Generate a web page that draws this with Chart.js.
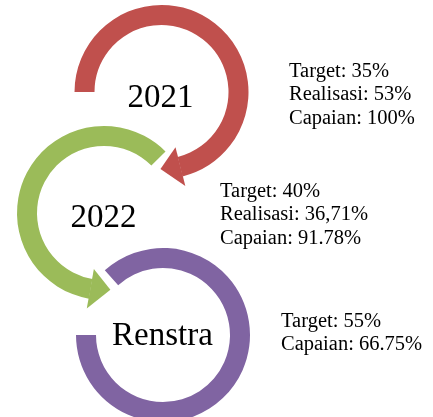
<!DOCTYPE html>
<html>
<head>
<meta charset="utf-8">
<script src="https://cdn.jsdelivr.net/npm/chart.js@4"></script>
<style>
  html, body { margin: 0; padding: 0; background: #ffffff; overflow: hidden; }
  #wrap { position: relative; width: 433px; height: 417px; }
  #wrap canvas { position: absolute; left: 0; top: 0; }
</style>
</head>
<body>
<div id="wrap">
  <canvas id="c0" width="433" height="417"></canvas>
  <canvas id="c1" width="433" height="417"></canvas>
  <canvas id="c2" width="433" height="417"></canvas>
</div>
<script>
// ---- data ----
const periods   = ['2021', '2022', 'Renstra'];
const targets   = [35, 40, 55];
const realisasi = [53, 36.71, null];
const capaian   = [100, 91.78, 66.75];
const realisasiSep = [',', ',', ','];
const capaianSep   = ['.', '.', '.'];

// ---- layout / styling (not data) ----
const W = 433, H = 417;
const colors = ['#C0504D', '#9BBB59', '#8064A2'];
const rings = [
  { cx: 161.5, cy: 92,  startDeg: 180,  spanDeg: 256, arrow: 'end'   },
  { cx: 104,   cy: 213, startDeg: 100,  spanDeg: 215, arrow: 'start' },
  { cx: 163,   cy: 335, startDeg: -132, spanDeg: 312, arrow: null    }
];
const OUTER_R = 87, INNER_R = 67;
const centerText = [
  { x: 160.5, y: 107 },
  { x: 103.5, y: 227 },
  { x: 162.5, y: 345 }
];
const sideText = [
  { x: 289, y: [77, 100, 124] },
  { x: 220, y: [197, 220, 244] },
  { x: 281, y: [327, 350] }
];

function pct(v, sep) {
  return String(v).replace('.', sep) + '%';
}
function linesFor(i) {
  const out = ['Target: ' + pct(targets[i], '.')];
  if (realisasi[i] !== null) out.push('Realisasi: ' + pct(realisasi[i], realisasiSep[i]));
  out.push('Capaian: ' + pct(capaian[i], capaianSep[i]));
  return out;
}

const arrowPlugin = {
  id: 'arrowHead',
  afterDatasetsDraw(chart, args, opts) {
    if (!opts.side) return;
    const arc = chart.getDatasetMeta(0).data[0];
    const p = arc.getProps(['x', 'y', 'startAngle', 'endAngle', 'innerRadius', 'outerRadius'], true);
    const ctx = chart.ctx;
    const dir = opts.side === 'end' ? 1 : -1;
    const base = (opts.side === 'end' ? p.endAngle : p.startAngle) - dir * 0.004;
    const tipA = base + dir * opts.lengthDeg * Math.PI / 180;
    const mid = (p.innerRadius + p.outerRadius) / 2;
    const r1 = p.innerRadius - opts.flare, r2 = p.outerRadius + opts.flare;
    ctx.save();
    ctx.fillStyle = opts.color;
    ctx.beginPath();
    ctx.moveTo(p.x + r1 * Math.cos(base), p.y + r1 * Math.sin(base));
    ctx.lineTo(p.x + r2 * Math.cos(base), p.y + r2 * Math.sin(base));
    ctx.lineTo(p.x + mid * Math.cos(tipA), p.y + mid * Math.sin(tipA));
    ctx.closePath();
    ctx.fill();
    ctx.restore();
  }
};

const textPlugin = {
  id: 'ringText',
  afterDraw(chart, args, opts) {
    const ctx = chart.ctx;
    ctx.save();
    ctx.fillStyle = '#000000';
    ctx.textBaseline = 'alphabetic';
    ctx.textAlign = 'center';
    ctx.font = '33px "Liberation Serif", "Times New Roman", serif';
    ctx.fillText(opts.title, opts.cx, opts.cy);
    ctx.textAlign = 'left';
    ctx.font = '20.5px "Liberation Serif", "Times New Roman", serif';
    opts.lines.forEach((t, k) => ctx.fillText(t, opts.sx, opts.sy[k]));
    ctx.restore();
  }
};

periods.forEach((name, i) => {
  const r = rings[i];
  new Chart(document.getElementById('c' + i), {
    type: 'doughnut',
    data: {
      labels: [name, ''],
      datasets: [{
        data: [r.spanDeg, 360 - r.spanDeg],
        backgroundColor: [colors[i], 'rgba(0,0,0,0)'],
        borderWidth: 0,
        hoverOffset: 0,
        offset: 0,
        clip: false
      }]
    },
    options: {
      responsive: false,
      animation: false,
      devicePixelRatio: 1,
      rotation: r.startDeg + 90,
      circumference: 360,
      radius: OUTER_R,
      cutout: (INNER_R / OUTER_R * 100) + '%',
      layout: {
        padding: { left: r.cx - 10, right: W - r.cx - 10, top: r.cy - 10, bottom: H - r.cy - 10 }
      },
      events: [],
      plugins: {
        legend: { display: false },
        tooltip: { enabled: false },
        arrowHead: { side: r.arrow, color: colors[i], lengthDeg: 15, flare: 10 },
        ringText: {
          title: name, cx: centerText[i].x, cy: centerText[i].y,
          lines: linesFor(i), sx: sideText[i].x, sy: sideText[i].y
        }
      }
    },
    plugins: [arrowPlugin, textPlugin]
  });
});
</script>
</body>
</html>
